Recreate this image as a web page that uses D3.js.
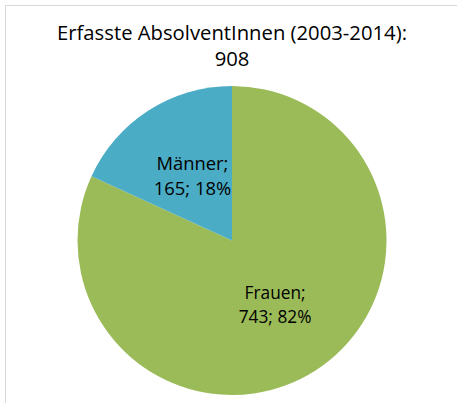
<!DOCTYPE html>
<html><head><meta charset="utf-8">
<script src="https://cdn.jsdelivr.net/npm/d3@7"></script>
<style>body{margin:0;background:#fff}svg{display:block}</style>
</head><body>
<svg id="c" width="457" height="403"></svg>
<script>
const titleLines = ["Erfasste AbsolventInnen (2003-2014):", "908"];
const categories = ["Frauen", "Männer"];
const values = [743, 165];
const percents = ["82%", "18%"];
const colors = ["#9BBB59", "#4BACC6"];

const svg = d3.select("#c");
const font = "'Open Sans', sans-serif";

svg.append("rect").attr("x", 5.5).attr("y", 5.5).attr("width", 470).attr("height", 420)
  .attr("fill", "#fff").attr("stroke", "#d9d9d9").attr("stroke-width", 1);

// fit a text element's font size so its first line has a target width
function fit(textSel, target) {
  const node = textSel.select("tspan").node();
  const fs = +textSel.attr("font-size");
  const w = node.getComputedTextLength();
  if (w > 0) textSel.attr("font-size", fs * target / w);
}

const title = svg.append("text").attr("text-anchor", "middle").attr("font-family", font)
  .attr("font-size", 20).attr("fill", "#000");
titleLines.forEach((t, i) => title.append("tspan").attr("x", 232).attr("y", 39.5 + i * 26).text(t));
fit(title, 350);

const cx = 232, cy = 240.5, R = 154.5;
const data = categories.map((c, i) => ({ cat: c, value: values[i], pct: percents[i], color: colors[i] }));
const pie = d3.pie().value(d => d.value).sort(null);
const arc = d3.arc().innerRadius(0).outerRadius(R);
const arcs = pie(data);
const g = svg.append("g").attr("transform", `translate(${cx},${cy})`);
g.selectAll("path").data(arcs).join("path").attr("d", arc).attr("fill", d => d.data.color);

const labelR = [0.54 * R, 0.45 * R];
arcs.forEach((a, i) => {
  const la = d3.arc().innerRadius(labelR[i]).outerRadius(labelR[i]);
  const [x, y] = la.centroid(a);
  const t = g.append("text").attr("text-anchor", "middle").attr("font-family", font)
    .attr("font-size", 17).attr("fill", "#000");
  t.append("tspan").attr("x", x - 2).attr("y", y - 12).text(a.data.cat + ";");
  t.append("tspan").attr("x", x - 2).attr("y", y + 12.5).text(a.data.value + "; " + a.data.pct);
  fit(t, i === 0 ? 61 : 72);
});
</script>
</body></html>
